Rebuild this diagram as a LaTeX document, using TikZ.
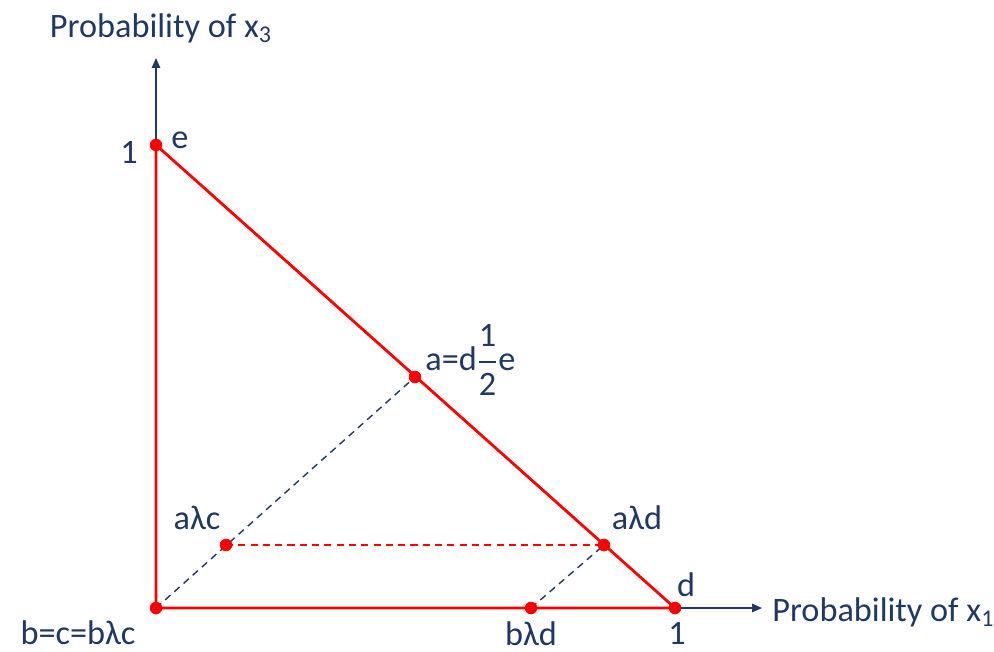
\documentclass[tikz,border=0pt]{standalone}
\usepackage{amsmath}
\usepackage{fontspec}
\setmainfont{Carlito}
\usetikzlibrary{arrows.meta}
\definecolor{axisnavy}{HTML}{203864}
\definecolor{simplexred}{HTML}{FF0000}

\begin{document}
\begin{tikzpicture}[x=0.02cm, y=-0.02cm,
  pt/.style={circle, fill=simplexred, inner sep=0pt, minimum size=2.5mm},
  edge/.style={draw=simplexred, line width=1.6pt},
  axis/.style={draw=axisnavy, line width=0.8pt, -{Triangle[length=2mm,width=1.7mm]}},
  guide/.style={draw=axisnavy, dash pattern=on 4pt off 3pt, line width=0.8pt},
  redguide/.style={draw=simplexred, dash pattern=on 4pt off 3pt, line width=0.8pt},
  lab/.style={text=axisnavy, font=\fontsize{19.5}{23}\selectfont, inner sep=0pt},
]
\useasboundingbox (0,0) rectangle (994,652);
% corners and points of the simplex
\coordinate (b)   at (156,608);
\coordinate (e)   at (156,145);
\coordinate (d)   at (675,608);
\coordinate (a)   at (415,377);
\coordinate (alc) at (226,545);
\coordinate (ald) at (604,545);
\coordinate (bld) at (531,608);
\coordinate (x3end) at (156,58);
\coordinate (x1end) at (762,608);

% axes
\draw[axis] (b) -- (x3end);
\draw[axis] (b) -- (x1end);

% mixtures
\draw[guide] (b) -- (a);
\draw[guide] (bld) -- (ald);
\draw[redguide] (alc) -- (ald);

% triangle
\draw[edge] (b) -- (e) -- (d) -- cycle;

\foreach \p in {b,e,d,a,alc,ald,bld}
  \node[pt] (dot-\p) at (\p) {};

% labels
\node[lab] (x3lab) at (161,28) {Probability of x\textsubscript{3}};
\node[lab, anchor=west] (x1lab) at (772,612) {Probability of x\textsubscript{1}};
\node[lab] (one3) at (129,152) {1};
\node[lab] (elab) at (180,140) {e};
\node[lab, anchor=west] (alab) at (425,360) {a=d$\displaystyle\genfrac{}{}{1pt}{}{\mbox{1}}{\mbox{2}}$e};
\node[lab] (alclab) at (197,518) {aλc};
\node[lab] (aldlab) at (637,518) {aλd};
\node[lab] (dlab) at (686,585) {d};
\node[lab] (one1) at (677,633) {1};
\node[lab] (bldlab) at (531,634) {bλd};
\node[lab] (blab) at (78,633) {b=c=bλc};
\end{tikzpicture}
\end{document}
